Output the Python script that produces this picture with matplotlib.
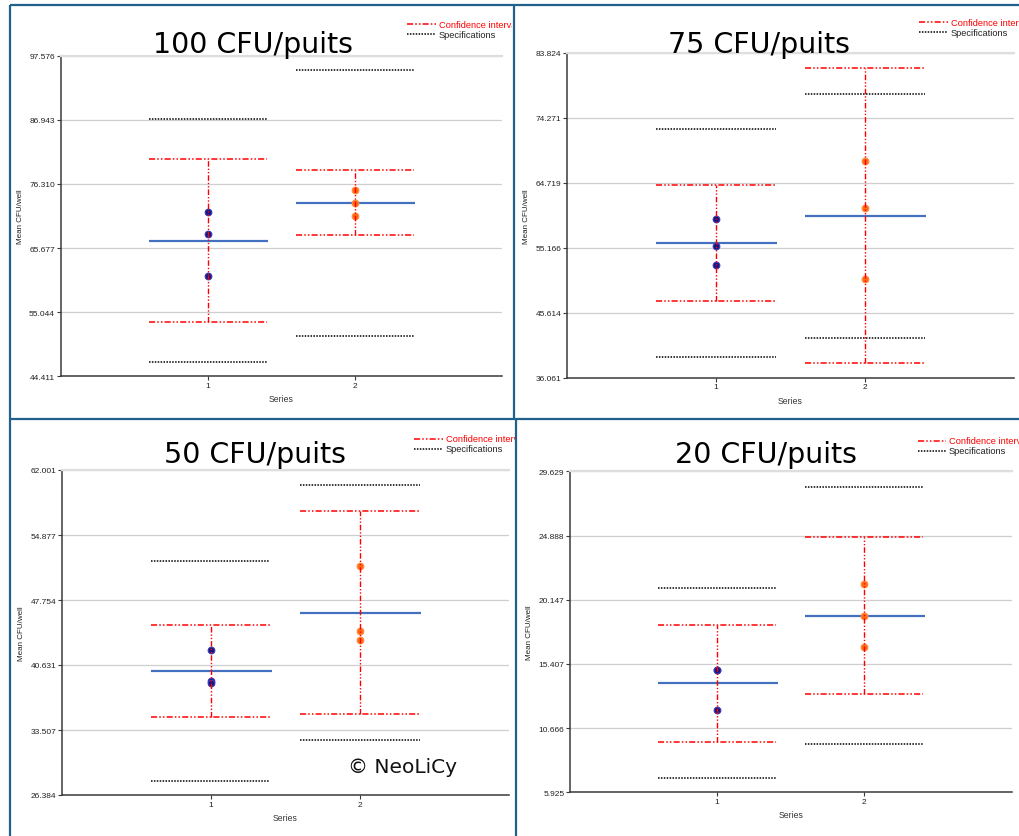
import matplotlib
matplotlib.use("Agg")
import matplotlib.pyplot as plt
from matplotlib.lines import Line2D
from matplotlib.transforms import Bbox

plt.rcParams["font.family"] = ["Liberation Sans", "DejaVu Sans"]

# ---- data -------------------------------------------------------------
series = [1, 2]
series_labels = ["1", "2"]

titles = ["100 CFU/puits", "75 CFU/puits", "50 CFU/puits", "20 CFU/puits"]

ticks100 = [44.411, 55.044, 65.677, 76.310, 86.943, 97.576]
means100 = [66.87, 73.12]
ci_low100 = [53.49, 67.76]
ci_high100 = [80.43, 78.60]
spec_low100 = [46.79, 51.17]
spec_high100 = [87.00, 95.25]
pts100_s1 = [71.68, 68.09, 60.97]
pts100_s2 = [75.33, 73.07, 70.97]

ticks75 = [36.061, 45.614, 55.166, 64.719, 74.271, 83.824]
means75 = [55.82, 59.84]
ci_low75 = [47.34, 38.17]
ci_high75 = [64.45, 81.57]
spec_low75 = [39.15, 41.90]
spec_high75 = [72.64, 77.84]
pts75_s1 = [59.40, 55.38, 52.63]
pts75_s2 = [67.93, 60.97, 50.53]

ticks50 = [26.384, 33.507, 40.631, 47.754, 54.877, 62.001]
means50 = [40.01, 46.37]
ci_low50 = [34.97, 35.30]
ci_high50 = [45.01, 57.51]
spec_low50 = [27.96, 32.45]
spec_high50 = [52.03, 60.36]
pts50_s1 = [42.27, 38.88, 38.62]
pts50_s2 = [51.48, 44.32, 43.34]

ticks20 = [5.925, 10.666, 15.407, 20.147, 24.888, 29.629]
means20 = [14.00, 18.97]
ci_low20 = [9.67, 13.21]
ci_high20 = [18.28, 24.78]
spec_low20 = [6.96, 9.52]
spec_high20 = [21.01, 28.50]
pts20_s1 = [14.98, 14.95, 11.98]
pts20_s2 = [21.31, 18.97, 16.63]

y_label = "Mean CFU/well"
x_label = "Series"
legend_labels = ["Confidence interval", "Specifications"]
watermark = "\u00a9 NeoLiCy"

# ---- layout (pixels) ---------------------------------------------------
W, H = 1019, 837
fig = plt.figure(figsize=(W / 100, H / 100), dpi=100)
fig.patch.set_facecolor("white")


def fx(x):
    return x / W


def fy(y):
    return 1 - y / H


panels = [
    dict(title=titles[0], ticks=ticks100, means=means100, ci_low=ci_low100,
         ci_high=ci_high100, spec_low=spec_low100, spec_high=spec_high100,
         pts=[pts100_s1, pts100_s2],
         box=(60.5, 56.7, 502, 377.3), title_xy=(253, 53),
         leg=(407, 436, 25, 439), clip_x=512),
    dict(title=titles[1], ticks=ticks75, means=means75, ci_low=ci_low75,
         ci_high=ci_high75, spec_low=spec_low75, spec_high=spec_high75,
         pts=[pts75_s1, pts75_s2],
         box=(567, 54, 1014, 378.7), title_xy=(759, 53),
         leg=(919, 948, 23, 951), clip_x=W),
    dict(title=titles[2], ticks=ticks50, means=means50, ci_low=ci_low50,
         ci_high=ci_high50, spec_low=spec_low50, spec_high=spec_high50,
         pts=[pts50_s1, pts50_s2],
         box=(61.7, 471, 509, 796), title_xy=(255, 463),
         leg=(414, 443, 439.5, 446), clip_x=515),
    dict(title=titles[3], ticks=ticks20, means=means20, ci_low=ci_low20,
         ci_high=ci_high20, spec_low=spec_low20, spec_high=spec_high20,
         pts=[pts20_s1, pts20_s2],
         box=(570, 472.3, 1011.5, 793.3), title_xy=(766, 463),
         leg=(918, 946, 441.5, 949), clip_x=W),
]

RED = "#ff0000"
BLUE = "#4470c0"
CI_DASH = (0, (4.0, 1.4, 1.0, 1.4, 1.0, 1.4))
SPEC_DASH = (0, (1.0, 0.9))
point_face = ["#16167f", "#ff6a12"]
point_edge = ["#3a3ab8", "#ff8a3c"]
half = 0.4

for p in panels:
    l, t, r, b = p["box"]
    ax = fig.add_axes([fx(l), fy(b), (r - l) / W, (b - t) / H])
    ax.set_facecolor("white")
    ticks = p["ticks"]
    ax.set_xlim(0, 3)
    ax.set_ylim(ticks[0], ticks[-1])
    ax.set_yticks(ticks)
    ax.set_yticklabels([f"{v:.3f}" for v in ticks])
    ax.set_xticks(series)
    ax.set_xticklabels(series_labels)
    ax.grid(axis="y", color="#cfcfcf", lw=0.9, zorder=0)
    ax.set_axisbelow(True)
    ax.spines["right"].set_visible(False)
    ax.spines["top"].set_color("#dedede")
    ax.spines["top"].set_linewidth(1.6)
    for s in ("left", "bottom"):
        ax.spines[s].set_color("#3a3a3a")
        ax.spines[s].set_linewidth(1.1)
    ax.tick_params(axis="both", direction="out", length=3, width=0.8,
                   color="#3a3a3a", labelsize=6, labelcolor="#222222", pad=1)

    ax.set_xlabel(x_label, fontsize=6.2, color="#333333", labelpad=4)
    ax.set_ylabel(y_label, fontsize=5.8, color="#222222")
    ax.yaxis.set_label_coords(-37 / (r - l), 0.5)

    for i, xs in enumerate(series):
        # specification limits
        for v in (p["spec_low"][i], p["spec_high"][i]):
            ax.plot([xs - half, xs + half], [v, v], color="black",
                    lw=1.1, linestyle=SPEC_DASH, zorder=2)
        # mean
        m = p["means"][i]
        ax.plot([xs - half, xs + half + 0.01], [m, m], color=BLUE,
                lw=1.6, solid_capstyle="butt", zorder=3)
        # individual values
        ys = p["pts"][i]
        ax.plot([xs] * len(ys), ys, linestyle="none", marker="o", ms=4.8,
                mfc=point_face[i], mec=point_edge[i], mew=0.8, zorder=4)
        # confidence interval
        lo, hi = p["ci_low"][i], p["ci_high"][i]
        ax.plot([xs, xs], [lo, hi], color=RED, lw=1.0,
                linestyle=CI_DASH, zorder=5)
        for v in (lo, hi):
            ax.plot([xs - half, xs + half], [v, v], color=RED, lw=1.1,
                    linestyle=CI_DASH, zorder=5)

    # panel title
    tx, ty = p["title_xy"]
    fig.text(fx(tx), fy(ty), p["title"], ha="center", va="baseline",
             fontsize=20.5, family="DejaVu Sans", color="black")

    # legend
    x0, x1, ly, txt_x = p["leg"]
    clip = Bbox.from_extents(0, 0, p["clip_x"], H)
    for k, (col, ls, tc) in enumerate([(RED, CI_DASH, RED),
                                       ("black", SPEC_DASH, "#222222")]):
        yy = ly + 10 * k
        fig.add_artist(Line2D([fx(x0), fx(x1)], [fy(yy), fy(yy)],
                              transform=fig.transFigure, color=col,
                              lw=1.1, linestyle=ls))
        txt = fig.text(fx(txt_x), fy(yy), legend_labels[k], ha="left",
                       va="center", fontsize=6.7, color=tc)
        txt.set_clip_on(True)
        txt.set_clip_box(clip)

# watermark
fig.text(fx(348), fy(773), watermark, ha="left", va="baseline",
         fontsize=14.5, family="DejaVu Sans", color="#111111")

# panel frames
FRAME = "#21628c"
frame_lines = [
    ((10, 10), (6, 420)),
    ((10, W), (6, 6)),
    ((513.5, 513.5), (6, 420)),
    ((10, W), (420.3, 420.3)),
    ((10, 10), (420, H)),
    ((516, 516), (420, H)),
]
for xs_, ys_ in frame_lines:
    fig.add_artist(Line2D([fx(v) for v in xs_], [fy(v) for v in ys_],
                          transform=fig.transFigure, color=FRAME, lw=1.6,
                          solid_capstyle="butt"))

fig.savefig("out.png", dpi=100, facecolor="white")
